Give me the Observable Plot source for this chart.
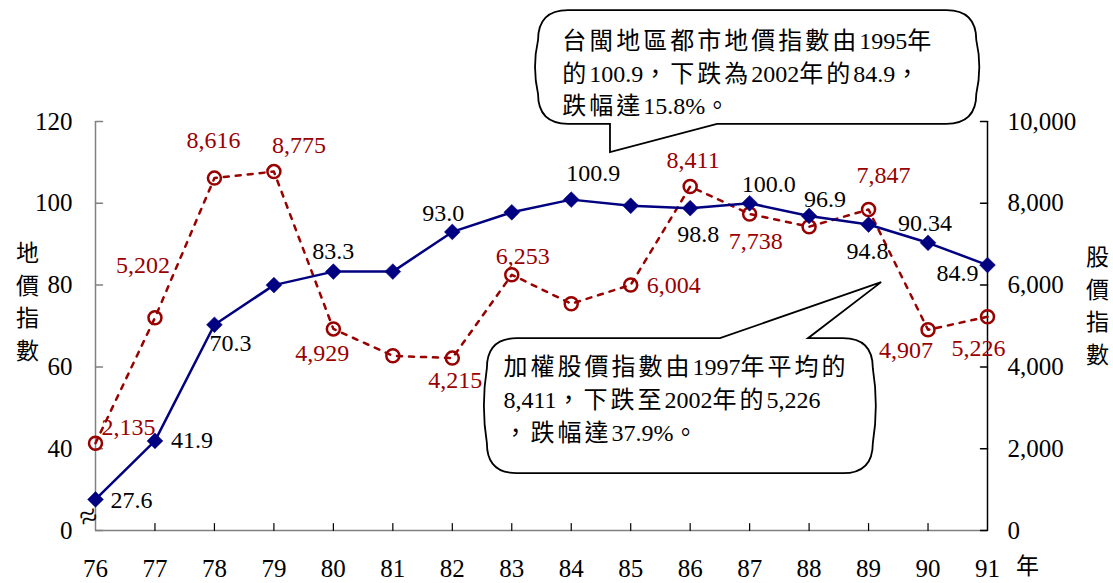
<!DOCTYPE html>
<html><head><meta charset="utf-8">
<script src="https://cdn.jsdelivr.net/npm/d3@7"></script>
<script src="https://cdn.jsdelivr.net/npm/@observablehq/plot@0.6"></script>
<style>
body{margin:0;background:#fff}
#chart svg{display:block}
</style>
</head><body><div id="chart"></div>
<script>
// ---- data ----
const years = [76,77,78,79,80,81,82,83,84,85,86,87,88,89,90,91];
const landIndex = [27.6,41.9,70.3,80.0,83.3,83.3,93.0,97.8,100.9,99.4,98.8,100.0,96.9,94.8,90.34,84.9];
const landLabels = ["27.6","41.9","70.3",null,"83.3",null,"93.0",null,"100.9",null,"98.8","100.0","96.9","94.8","90.34","84.9"];
const stockIndex = [2135,5202,8616,8775,4929,4271,4215,6253,5544,6004,8411,7738,7427,7847,4907,5226];
const stockLabels = ["2,135","5,202","8,616","8,775","4,929",null,"4,215","6,253",null,"6,004","8,411","7,738",null,"7,847","4,907","5,226"];
const leftTickValues = [20,40,60,80,100,120];      // 20 sits on the axis break
const leftTickLabels = ["0","40","60","80","100","120"];
const rightTickValues = [0,2000,4000,6000,8000,10000];
const leftTitle = "地價指數";
const rightTitle = "股價指數";
const xUnit = "年";
const noteLand = "台閩地區都市地價指數由1995年\n的100.9，下跌為2002年的84.9，\n跌幅達15.8%。";
const noteStock = "加權股價指數由1997年平均的\n8,411，下跌至2002年的5,226\n，跌幅達37.9%。";

// ---- styling / layout (not data) ----
const landOffsets = [[36,1],[37,-1],[16,19],null,[0,-20],null,[-9,-19],null,[22,-26],null,[8,26],[19,-19],[16,-17],[-1,27],[-3,-19],[-30,8]];
const stockOffsets = [[33,-16],[-12,-52],[-1,-38],[25,-26],[-11,24],null,[3,22],[11,-18],null,[43,0],[3,-26],[6,27],null,[15,-34],[-22,21],[-9,32]];
const NAVY = "#000080", RED = "#990000";
const SERIF = "'Liberation Serif',serif";
const FONT = "'Liberation Serif','Noto Sans CJK TC',serif";
const CJK = "'Noto Sans CJK TC',sans-serif";

const stockToY = s => 20 + s / 100;

const land = years.map((y, i) => ({year: y, v: landIndex[i]}));
const stock = years.map((y, i) => ({year: y, v: stockToY(stockIndex[i])}));

const tickShape = {draw(c, l) { c.moveTo(0, 0); c.lineTo(0, -l); }};

const marks = [
  Plot.ruleY([20], {x1: 76, x2: 91, stroke: "#808080", strokeWidth: 1.5}),
  Plot.ruleX([76], {y1: 20, y2: 120, stroke: "#808080", strokeWidth: 1.5}),
  Plot.ruleX([91], {y1: 20, y2: 120, stroke: "#000", strokeWidth: 1.5}),
  Plot.vector(leftTickValues, {x: 76, y: d => d, length: 7, rotate: 90, anchor: "start", shape: tickShape, stroke: "#808080", strokeWidth: 1.5}),
  Plot.vector(leftTickValues, {x: 91, y: d => d, length: 7, rotate: -90, anchor: "start", shape: tickShape, stroke: "#000", strokeWidth: 1.5}),
  Plot.vector(years.slice(1, -1), {x: d => d, y: 20, length: 7, rotate: 0, anchor: "start", shape: tickShape, stroke: "#000", strokeWidth: 1.2}),
  Plot.axisY(leftTickValues, {anchor: "left", tickSize: 0, tickPadding: 23, tickFormat: d => leftTickLabels[leftTickValues.indexOf(d)], fontSize: 25, label: null}),
  Plot.axisY(rightTickValues.map(stockToY), {anchor: "right", tickSize: 0, tickPadding: 20, tickFormat: d => d3.format(",")(Math.round((d - 20) * 100)), fontSize: 25, label: null}),
  Plot.axisX(years, {anchor: "bottom", tickSize: 0, tickPadding: 29, tickFormat: d => String(d), fontSize: 25, label: null}),
  Plot.text([xUnit], {x: 91, y: 20, dx: 40, dy: 36, text: d => d, fontSize: 23}),
  Plot.text([leftTitle.split("").join("\n")], {x: 76, y: 76.5, dx: -68, text: d => d, fontSize: 23, lineHeight: 1.43}),
  Plot.text([rightTitle.split("").join("\n")], {x: 91, y: 75.5, dx: 110, text: d => d, fontSize: 23, lineHeight: 1.43}),
  Plot.text(["≈"], {x: 76, y: 23.4, dx: -7, text: d => d, fontSize: 32, rotate: -20}),
  Plot.line(stock, {x: "year", y: "v", stroke: RED, strokeWidth: 2.5, strokeDasharray: "5,7"}),
  Plot.dot(stock, {x: "year", y: "v", r: 6.5, stroke: RED, strokeWidth: 2.5, fill: "none"}),
  Plot.line(land, {x: "year", y: "v", stroke: NAVY, strokeWidth: 2.5}),
  Plot.dot(land, {x: "year", y: "v", symbol: "square", rotate: 45, r: 6.3, fill: NAVY, stroke: NAVY, strokeWidth: 0.5}),
];

landLabels.forEach((t, i) => {
  if (!t) return;
  const [dx, dy] = landOffsets[i];
  marks.push(Plot.text([t], {x: years[i], y: landIndex[i], dx, dy, text: d => d, fill: "#000", fontSize: 24}));
});
stockLabels.forEach((t, i) => {
  if (!t) return;
  const [dx, dy] = stockOffsets[i];
  marks.push(Plot.text([t], {x: years[i], y: stockToY(stockIndex[i]), dx, dy, text: d => d, fill: RED, fontSize: 24}));
});

marks.push(Plot.text([noteLand], {x: 83.85, y: 132.3, text: d => d, textAnchor: "start", fontSize: 24, lineHeight: 1.36, ariaDescription: "note-land"}));
marks.push(Plot.text([noteStock], {x: 82.86, y: 52.5, text: d => d, textAnchor: "start", fontSize: 24, lineHeight: 1.38, ariaDescription: "note-stock"}));

const chart = Plot.plot({
  width: 1113, height: 583,
  marginLeft: 95, marginRight: 126, marginTop: 121, marginBottom: 53,
  x: {domain: [76, 91], axis: null},
  y: {domain: [20, 120], axis: null},
  style: {fontFamily: FONT, fontSize: "24px", color: "#000", background: "#fff", overflow: "visible"},
  marks
});

const sx = chart.scale("x").apply, sy = chart.scale("y").apply;
function bubble(b) {
  const x0 = sx(b.x0), x1 = sx(b.x1), y0 = sy(b.yTop), y1 = sy(b.yBottom);
  const ta = sx(b.ta), tb = sx(b.tb), tx = sx(b.tipX), ty = sy(b.tipY);
  const r = 30, k = 6;
  let p = `M${x0 + r},${y0}`;
  if (b.side === "top") p += `L${ta},${y0}L${tx},${ty}L${tb},${y0}`;
  p += `L${x1 - r},${y0}Q${x1},${y0} ${x1},${y0 + r}`;
  p += `Q${x1 + k},${(y0 + y1) / 2} ${x1},${y1 - r}`;
  p += `Q${x1},${y1} ${x1 - r},${y1}`;
  if (b.side === "bottom") p += `L${tb},${y1}L${tx},${ty}L${ta},${y1}`;
  p += `L${x0 + r},${y1}Q${x0},${y1} ${x0},${y1 - r}`;
  p += `Q${x0 - k},${(y0 + y1) / 2} ${x0},${y0 + r}Q${x0},${y0} ${x0 + r},${y0}Z`;
  return p;
}
const bubbles = [
  {label: "note-land", x0: 83.45, x1: 90.82, yTop: 147.1, yBottom: 119.3, side: "bottom", ta: 84.66, tb: 86.46, tipX: 84.66, tipY: 112.4},
  {label: "note-stock", x0: 82.59, x1: 89.08, yTop: 66.9, yBottom: 33.9, side: "top", ta: 86.51, tb: 87.99, tipX: 89.22, tipY: 80.6},
];
const NS = "http://www.w3.org/2000/svg";
function splitRuns(node) {
  const s = node.textContent;
  node.textContent = "";
  for (const part of s.split(/([\x00-\x7F]+)/)) {
    if (!part) continue;
    const t = document.createElementNS(NS, "tspan");
    t.textContent = part;
    if (/^[\x00-\x7F]+$/.test(part)) t.setAttribute("font-family", SERIF);
    else { t.setAttribute("font-family", CJK); t.setAttribute("letter-spacing", "3"); }
    node.appendChild(t);
  }
}
for (const b of bubbles) {
  let g = chart.querySelector(`[aria-description="${b.label}"]`);
  if (g && g.tagName.toLowerCase() !== "g") g = g.closest("g");
  const path = document.createElementNS(NS, "path");
  path.setAttribute("d", bubble(b));
  path.setAttribute("fill", "#fff");
  path.setAttribute("stroke", "#000");
  path.setAttribute("stroke-width", "1.8");
  if (g) {
    g.parentNode.insertBefore(path, g);
    g.querySelectorAll("text").forEach(txt => {
      const lines = txt.querySelectorAll("tspan");
      if (lines.length) lines.forEach(splitRuns); else splitRuns(txt);
    });
  } else chart.appendChild(path);
}
document.getElementById("chart").appendChild(chart);
</script>
</body></html>
